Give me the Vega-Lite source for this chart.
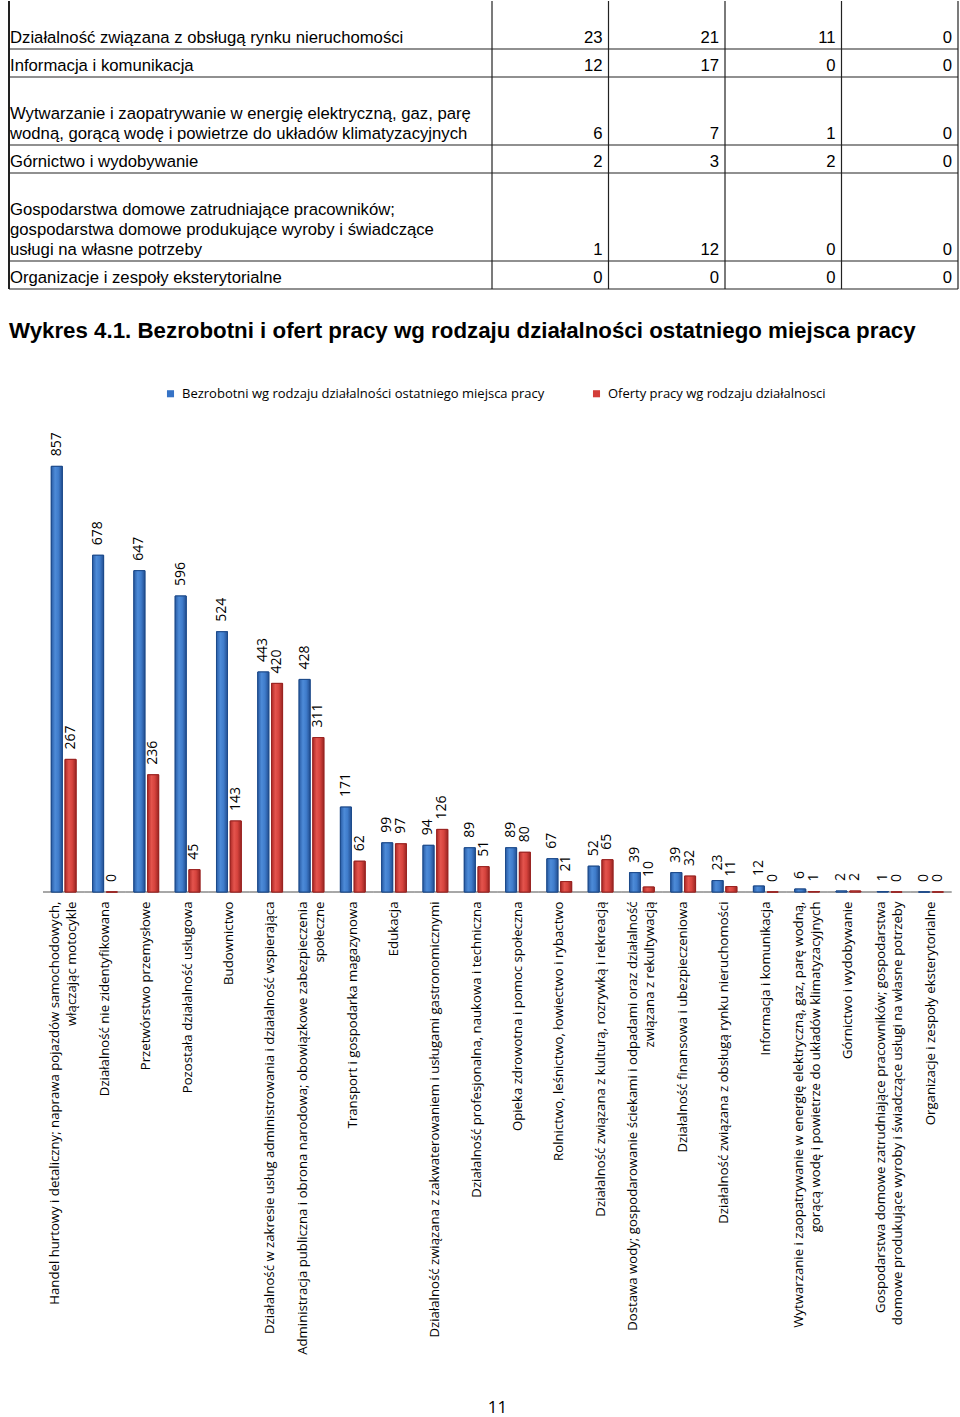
{
  "$schema": "https://vega.github.io/schema/vega-lite/v6.json",
  "background": "white",
  "padding": {"left": 8, "top": 0, "right": 2, "bottom": 8},
  "config": {"view": {"stroke": null}},
  "spacing": 30,
  "datasets": {
    "table": [
      {"i": 1, "name": "\nDziałalność  związana  z obsługą rynku nieruchomości", "a": 23, "b": 21, "c": 11, "d": 0},
      {"i": 2, "name": "Informacja i komunikacja", "a": 12, "b": 17, "c": 0, "d": 0},
      {"i": 3, "name": "\nWytwarzanie i zaopatrywanie w energię elektryczną, gaz, parę\nwodną, gorącą wodę i powietrze do układów klimatyzacyjnych", "a": 6, "b": 7, "c": 1, "d": 0},
      {"i": 4, "name": "Górnictwo i wydobywanie", "a": 2, "b": 3, "c": 2, "d": 0},
      {"i": 5, "name": "\nGospodarstwa domowe zatrudniające pracowników;\ngospodarstwa domowe produkujące wyroby i świadczące\nusługi na własne potrzeby", "a": 1, "b": 12, "c": 0, "d": 0},
      {"i": 6, "name": "Organizacje i zespoły eksterytorialne", "a": 0, "b": 0, "c": 0, "d": 0}
    ],
    "bars": [
      {"cat": "Handel hurtowy i detaliczny; naprawa pojazdów samochodowych,\nwłączając motocykle", "s": "Bezrobotni wg rodzaju działalności ostatniego miejsca pracy", "v": 857},
      {"cat": "Handel hurtowy i detaliczny; naprawa pojazdów samochodowych,\nwłączając motocykle", "s": "Oferty pracy wg rodzaju działalnosci", "v": 267},
      {"cat": "Działalność nie zidentyfikowana", "s": "Bezrobotni wg rodzaju działalności ostatniego miejsca pracy", "v": 678},
      {"cat": "Działalność nie zidentyfikowana", "s": "Oferty pracy wg rodzaju działalnosci", "v": 0},
      {"cat": "Przetwórstwo przemysłowe", "s": "Bezrobotni wg rodzaju działalności ostatniego miejsca pracy", "v": 647},
      {"cat": "Przetwórstwo przemysłowe", "s": "Oferty pracy wg rodzaju działalnosci", "v": 236},
      {"cat": "Pozostała działalność usługowa", "s": "Bezrobotni wg rodzaju działalności ostatniego miejsca pracy", "v": 596},
      {"cat": "Pozostała działalność usługowa", "s": "Oferty pracy wg rodzaju działalnosci", "v": 45},
      {"cat": "Budownictwo", "s": "Bezrobotni wg rodzaju działalności ostatniego miejsca pracy", "v": 524},
      {"cat": "Budownictwo", "s": "Oferty pracy wg rodzaju działalnosci", "v": 143},
      {"cat": "Działalność w zakresie usług administrowania i działalność wspierająca", "s": "Bezrobotni wg rodzaju działalności ostatniego miejsca pracy", "v": 443},
      {"cat": "Działalność w zakresie usług administrowania i działalność wspierająca", "s": "Oferty pracy wg rodzaju działalnosci", "v": 420},
      {"cat": "Administracja publiczna i obrona narodowa; obowiązkowe zabezpieczenia\nspołeczne", "s": "Bezrobotni wg rodzaju działalności ostatniego miejsca pracy", "v": 428},
      {"cat": "Administracja publiczna i obrona narodowa; obowiązkowe zabezpieczenia\nspołeczne", "s": "Oferty pracy wg rodzaju działalnosci", "v": 311},
      {"cat": "Transport i gospodarka magazynowa", "s": "Bezrobotni wg rodzaju działalności ostatniego miejsca pracy", "v": 171},
      {"cat": "Transport i gospodarka magazynowa", "s": "Oferty pracy wg rodzaju działalnosci", "v": 62},
      {"cat": "Edukacja", "s": "Bezrobotni wg rodzaju działalności ostatniego miejsca pracy", "v": 99},
      {"cat": "Edukacja", "s": "Oferty pracy wg rodzaju działalnosci", "v": 97},
      {"cat": "Działalność związana z zakwaterowaniem i usługami gastronomicznymi", "s": "Bezrobotni wg rodzaju działalności ostatniego miejsca pracy", "v": 94},
      {"cat": "Działalność związana z zakwaterowaniem i usługami gastronomicznymi", "s": "Oferty pracy wg rodzaju działalnosci", "v": 126},
      {"cat": "Działalność profesjonalna, naukowa i techniczna", "s": "Bezrobotni wg rodzaju działalności ostatniego miejsca pracy", "v": 89},
      {"cat": "Działalność profesjonalna, naukowa i techniczna", "s": "Oferty pracy wg rodzaju działalnosci", "v": 51},
      {"cat": "Opieka zdrowotna i pomoc społeczna", "s": "Bezrobotni wg rodzaju działalności ostatniego miejsca pracy", "v": 89},
      {"cat": "Opieka zdrowotna i pomoc społeczna", "s": "Oferty pracy wg rodzaju działalnosci", "v": 80},
      {"cat": "Rolnictwo, leśnictwo, łowiectwo i rybactwo", "s": "Bezrobotni wg rodzaju działalności ostatniego miejsca pracy", "v": 67},
      {"cat": "Rolnictwo, leśnictwo, łowiectwo i rybactwo", "s": "Oferty pracy wg rodzaju działalnosci", "v": 21},
      {"cat": "Działalność  związana z kulturą, rozrywką i rekreacją", "s": "Bezrobotni wg rodzaju działalności ostatniego miejsca pracy", "v": 52},
      {"cat": "Działalność  związana z kulturą, rozrywką i rekreacją", "s": "Oferty pracy wg rodzaju działalnosci", "v": 65},
      {"cat": "Dostawa wody; gospodarowanie ściekami i odpadami oraz działalność\nzwiązana z rekultywacją", "s": "Bezrobotni wg rodzaju działalności ostatniego miejsca pracy", "v": 39},
      {"cat": "Dostawa wody; gospodarowanie ściekami i odpadami oraz działalność\nzwiązana z rekultywacją", "s": "Oferty pracy wg rodzaju działalnosci", "v": 10},
      {"cat": "Działalność  finansowa i ubezpieczeniowa", "s": "Bezrobotni wg rodzaju działalności ostatniego miejsca pracy", "v": 39},
      {"cat": "Działalność  finansowa i ubezpieczeniowa", "s": "Oferty pracy wg rodzaju działalnosci", "v": 32},
      {"cat": "Działalność  związana  z obsługą rynku nieruchomości", "s": "Bezrobotni wg rodzaju działalności ostatniego miejsca pracy", "v": 23},
      {"cat": "Działalność  związana  z obsługą rynku nieruchomości", "s": "Oferty pracy wg rodzaju działalnosci", "v": 11},
      {"cat": "Informacja i komunikacja", "s": "Bezrobotni wg rodzaju działalności ostatniego miejsca pracy", "v": 12},
      {"cat": "Informacja i komunikacja", "s": "Oferty pracy wg rodzaju działalnosci", "v": 0},
      {"cat": "Wytwarzanie i zaopatrywanie w energię elektryczną, gaz, parę  wodną,\ngorącą wodę i powietrze do układów klimatyzacyjnych", "s": "Bezrobotni wg rodzaju działalności ostatniego miejsca pracy", "v": 6},
      {"cat": "Wytwarzanie i zaopatrywanie w energię elektryczną, gaz, parę  wodną,\ngorącą wodę i powietrze do układów klimatyzacyjnych", "s": "Oferty pracy wg rodzaju działalnosci", "v": 1},
      {"cat": "Górnictwo i wydobywanie", "s": "Bezrobotni wg rodzaju działalności ostatniego miejsca pracy", "v": 2},
      {"cat": "Górnictwo i wydobywanie", "s": "Oferty pracy wg rodzaju działalnosci", "v": 2},
      {"cat": "Gospodarstwa domowe zatrudniające pracowników; gospodarstwa\ndomowe produkujące wyroby i świadczące usługi na własne potrzeby", "s": "Bezrobotni wg rodzaju działalności ostatniego miejsca pracy", "v": 1},
      {"cat": "Gospodarstwa domowe zatrudniające pracowników; gospodarstwa\ndomowe produkujące wyroby i świadczące usługi na własne potrzeby", "s": "Oferty pracy wg rodzaju działalnosci", "v": 0},
      {"cat": "Organizacje i zespoły eksterytorialne", "s": "Bezrobotni wg rodzaju działalności ostatniego miejsca pracy", "v": 0},
      {"cat": "Organizacje i zespoły eksterytorialne", "s": "Oferty pracy wg rodzaju działalnosci", "v": 0}
    ]
  },
  "vconcat": [
    {
      "width": 949,
      "height": 288,
      "data": {"name": "table"},
      "transform": [
        {"calculate": "length(split(datum.name, '\\n')) + 0.4", "as": "u"},
        {"window": [{"op": "sum", "field": "u", "as": "cum"}], "sort": [{"field": "i"}]},
        {"calculate": "datum.cum - datum.u", "as": "top"}
      ],
      "resolve": {"scale": {"x": "independent"}},
      "layer": [
        {
          "mark": {"type": "rule", "color": "#222222", "strokeWidth": 1.2},
          "encoding": {"y": {"field": "cum", "type": "quantitative", "scale": {"domain": [0, 14.4], "reverse": true}, "axis": null}}
        },
        {
          "layer": [
            {
              "mark": {"type": "rule", "color": "#222222", "strokeWidth": 1.2},
              "encoding": {"x": {"datum": "names", "type": "nominal", "scale": {"type": "point", "padding": 0, "align": 0}, "axis": null}}
            },
            {
              "mark": {"type": "text", "align": "left", "baseline": "top", "lineBreak": "\n", "lineHeight": 20, "dx": 1, "dy": 9, "font": "Liberation Sans", "fontSize": 16.7, "color": "black"},
              "encoding": {
                "x": {"datum": "names", "type": "nominal", "scale": {"type": "point", "padding": 0, "align": 0}, "axis": null},
                "y": {"field": "top", "type": "quantitative", "scale": {"domain": [0, 14.4], "reverse": true}, "axis": null},
                "text": {"field": "name"}
              }
            }
          ]
        },
        {
          "transform": [{"fold": ["a", "b", "c", "d"], "as": ["col", "val"]}],
          "layer": [
            {
              "transform": [{"aggregate": [{"op": "count", "as": "k"}], "groupby": ["col"]}],
              "mark": {"type": "rule", "color": "#222222", "strokeWidth": 1.2},
              "encoding": {"x": {"field": "col", "type": "nominal", "bandPosition": 0, "scale": {"type": "band", "domain": ["n1", "n2", "n3", "a", "b", "c", "d"], "paddingInner": 0, "paddingOuter": 0.573, "align": 1}, "axis": null}}
            },
            {
              "transform": [{"filter": "datum.col == 'd'"}, {"aggregate": [{"op": "count", "as": "k"}], "groupby": ["col"]}],
              "mark": {"type": "rule", "color": "#222222", "strokeWidth": 1.2},
              "encoding": {"x": {"field": "col", "type": "nominal", "bandPosition": 1, "scale": {"type": "band", "domain": ["n1", "n2", "n3", "a", "b", "c", "d"], "paddingInner": 0, "paddingOuter": 0.573, "align": 1}, "axis": null}}
            },
            {
              "mark": {"type": "text", "align": "right", "baseline": "bottom", "dx": -6, "dy": -2, "font": "Liberation Sans", "fontSize": 16.7, "color": "black"},
              "encoding": {
                "x": {"field": "col", "type": "nominal", "bandPosition": 1, "scale": {"type": "band", "domain": ["n1", "n2", "n3", "a", "b", "c", "d"], "paddingInner": 0, "paddingOuter": 0.573, "align": 1}, "axis": null},
                "y": {"field": "cum", "type": "quantitative", "scale": {"domain": [0, 14.4], "reverse": true}, "axis": null},
                "text": {"field": "val", "type": "quantitative"}
              }
            }
          ]
        }
      ]
    },
    {
      "width": 949,
      "height": 447,
      "data": {"name": "bars"},
      "title": {
        "text": "Wykres 4.1. Bezrobotni i ofert pracy wg rodzaju działalności ostatniego miejsca pracy",
        "anchor": "start",
        "frame": "group",
        "offset": 90,
        "font": "Liberation Sans",
        "fontSize": 22.3,
        "fontWeight": "bold",
        "color": "black"
      },
      "encoding": {
        "x": {
          "field": "cat",
          "type": "nominal",
          "sort": null,
          "scale": {"paddingInner": 0.4, "paddingOuter": 0.689, "align": 0.743},
          "axis": {
            "title": "11",
            "titleFont": "Open Sans",
            "titleFontSize": 17,
            "titleFontWeight": "normal",
            "titleColor": "black",
            "titleX": 488,
            "titleY": 515,
            "titleBaseline": "middle",
            "labelAngle": -90,
            "labelAlign": "right",
            "labelBaseline": "middle",
            "labelPadding": 9,
            "labelOffset": {"condition": {"test": "indexof(datum.value, '\\n') >= 0", "value": -8.5}, "value": 0},
            "labelFont": "Open Sans",
            "labelFontSize": 13.2,
            "labelColor": "black",
            "labelLimit": 700,
            "labelLineHeight": 17,
            "labelOverlap": false,
            "labelExpr": "split(datum.label, '\\n')",
            "ticks": false,
            "domain": false
          }
        },
        "y": {"field": "v", "type": "quantitative", "scale": {"domain": [0, 900]}, "axis": null}
      },
      "layer": [
        {
          "transform": [{"filter": "datum.s == 'Bezrobotni wg rodzaju działalności ostatniego miejsca pracy'"}],
          "mark": {"type": "bar", "width": {"band": 1.6667}, "fill": "transparent", "stroke": "#8a8a8a", "strokeWidth": 1},
          "encoding": {
            "y": {"datum": 0, "type": "quantitative"},
            "y2": {"datum": 0}
          }
        },
        {
          "mark": {"type": "bar", "strokeWidth": 1},
          "encoding": {
            "xOffset": {"field": "s", "type": "nominal", "sort": null, "scale": {"paddingInner": 0.2}},
            "color": {
              "field": "s",
              "type": "nominal",
              "sort": null,
              "scale": {"range": ["#3673C6", "#D33D39"]},
              "legend": {
                "orient": "none",
                "legendX": 155,
                "legendY": 386,
                "direction": "horizontal",
                "title": null,
                "symbolType": "square",
                "symbolSize": 50,
                "symbolStrokeWidth": 0,
                "labelFont": "Open Sans",
                "labelFontSize": 13,
                "labelColor": "black",
                "labelLimit": 500,
                "labelOffset": 5,
                "columnPadding": 45,
                "padding": 0
              }
            },
            "stroke": {"field": "s", "type": "nominal", "sort": null, "scale": {"range": ["#1D4A8A", "#9A2422"]}, "legend": null}
          }
        },
        {
          "mark": {"type": "bar", "strokeWidth": 1},
          "encoding": {
            "xOffset": {"field": "s", "type": "nominal", "sort": null, "scale": {"paddingInner": 0.2}},
            "fill": {
              "condition": {
                "test": "datum.s == 'Bezrobotni wg rodzaju działalności ostatniego miejsca pracy'",
                "value": {"gradient": "linear", "x1": 0, "y1": 0, "x2": 1, "y2": 0, "stops": [{"offset": 0, "color": "#2A5DA6"}, {"offset": 0.35, "color": "#4D8BD8"}, {"offset": 0.65, "color": "#3F7CCB"}, {"offset": 1, "color": "#234F92"}]}
              },
              "value": {"gradient": "linear", "x1": 0, "y1": 0, "x2": 1, "y2": 0, "stops": [{"offset": 0, "color": "#AE2B27"}, {"offset": 0.35, "color": "#E4544D"}, {"offset": 0.65, "color": "#D6433D"}, {"offset": 1, "color": "#9A2522"}]}
            },
            "stroke": {
              "condition": {"test": "datum.s == 'Bezrobotni wg rodzaju działalności ostatniego miejsca pracy'", "value": "#1D4A8A"},
              "value": "#9A2422"
            }
          }
        },
        {
          "mark": {"type": "text", "angle": 270, "align": "left", "baseline": "middle", "dx": 10, "font": "Open Sans", "fontSize": 14, "color": "black"},
          "encoding": {
            "xOffset": {"field": "s", "type": "nominal", "sort": null, "scale": {"paddingInner": 0.2}},
            "text": {"field": "v", "type": "quantitative"}
          }
        }
      ]
    }
  ]
}
